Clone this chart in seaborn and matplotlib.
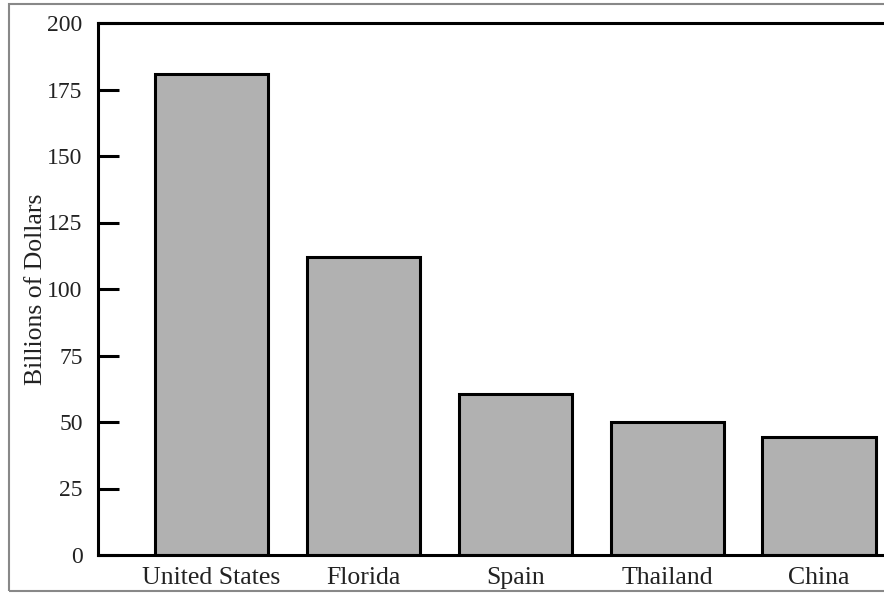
import matplotlib
matplotlib.use("Agg")
import matplotlib.pyplot as plt
from matplotlib.patches import Rectangle
import seaborn as sns
import pandas as pd

regions = ["United States", "Florida", "Spain", "Thailand", "China"]
billions = [181, 112, 60.5, 50, 44.5]
y_ticks = [0, 25, 50, 75, 100, 125, 150, 175, 200]

sns.set_theme(style="white")
plt.rcParams["font.family"] = ["Liberation Serif", "DejaVu Serif"]

df = pd.DataFrame({"region": regions, "value": billions})

fig = plt.figure(figsize=(8.84, 5.93), dpi=100)
ax = fig.add_axes([98 / 884, 38 / 593, 797 / 884, 532 / 593])

sns.barplot(data=df, x="region", y="value", color="#b1b1b1", saturation=1,
            edgecolor="black", linewidth=2.2, width=0.745, ax=ax)

ax.set_xlim(-0.747, 4.5)
ax.set_ylim(0, 200)
ax.set_yticks(y_ticks)
ax.set_yticklabels([str(t) for t in y_ticks])
ax.tick_params(axis="y", left=True, direction="in", length=15, width=2.2,
               color="black", labelsize=17, labelcolor="#222222", pad=11)
ax.tick_params(axis="x", bottom=False, length=0, labelsize=18.5,
               labelcolor="#222222", pad=8.5)
ax.set_xlabel("")
ax.set_ylabel("Billions of Dollars", fontsize=18.5, color="#222222")
ax.yaxis.set_label_coords(-0.0635, 0.5)

for side in ["left", "top", "bottom"]:
    ax.spines[side].set_visible(True)
    ax.spines[side].set_color("black")
    ax.spines[side].set_linewidth(2.2)
ax.spines["right"].set_visible(False)

# thin gray frame around the figure
fig.patches.append(Rectangle((8.5 / 884, 2.5 / 593), 1.2, 587 / 593,
                             transform=fig.transFigure, fill=False,
                             edgecolor="#888888", linewidth=1.5))

fig.savefig("out.png", dpi=100)
